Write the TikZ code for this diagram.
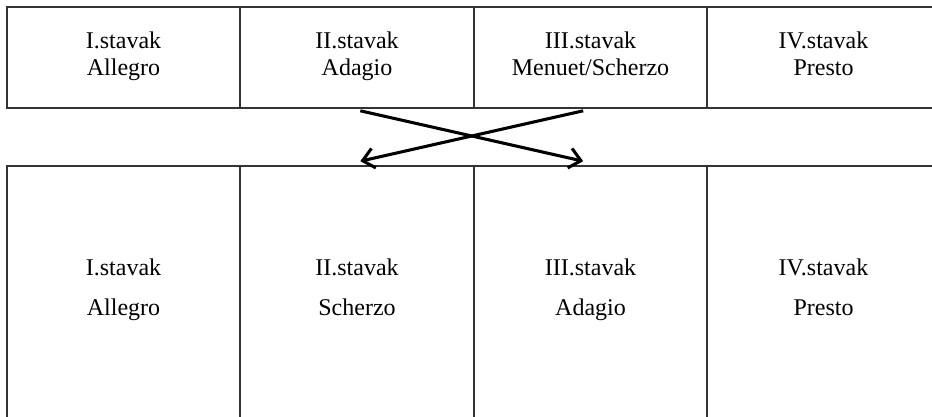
\documentclass[tikz,border=0pt]{standalone}
\usepackage{fontspec}
\setmainfont{Liberation Serif}
\usetikzlibrary{arrows.meta,calc}
\begin{document}
\begin{tikzpicture}[x=0.75pt,y=-0.75pt,
  cell/.style={draw=black!80,line width=1.2pt,rectangle,inner sep=0pt,
    minimum width=233*0.75pt,align=center,font=\fontsize{18}{20}\selectfont,
    execute at end node=\strut},
  topcell/.style={cell,minimum height=101*0.75pt,
    execute at begin node={\rule{0pt}{\dimexpr\ht\strutbox+4.5pt}}},
  botcell/.style={cell,minimum height=254*0.75pt,font=\fontsize{18}{30}\selectfont,
    execute at begin node={\rule{0pt}{\dimexpr\ht\strutbox+3pt}}},
  swap/.style={line width=2.3pt,-{Straight Barb[length=8.5pt,width=15pt]}}]
\clip (0,0) rectangle (932,417);
\node[topcell] (t1) at (123.5,57.5) {I.stavak\\Allegro};
\node[topcell] (t2) at (357,57.5) {II.stavak\\Adagio};
\node[topcell] (t3) at (590.5,57.5) {III.stavak\\Menuet/Scherzo};
\node[topcell] (t4) at (823.5,57.5) {IV.stavak\\Presto};
\node[botcell] (b1) at (123.5,293) {I.stavak\\Allegro};
\node[botcell] (b2) at (357,293) {II.stavak\\Scherzo};
\node[botcell] (b3) at (590.5,293) {III.stavak\\Adagio};
\node[botcell] (b4) at (823.5,293) {IV.stavak\\Presto};
\draw[swap] ([xshift=2.5pt,yshift=-1.5pt]t2.south) -- ([xshift=-5.5pt,yshift=3pt]b3.north);
\draw[swap] ([xshift=-5.5pt,yshift=-1.5pt]t3.south) -- ([xshift=2.5pt,yshift=3pt]b2.north);
\end{tikzpicture}
\end{document}
